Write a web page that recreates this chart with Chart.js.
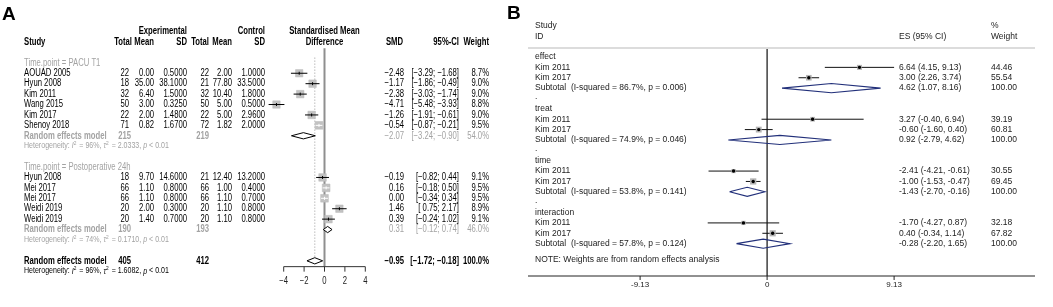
<!DOCTYPE html>
<html lang="en">
<head>
<meta charset="UTF-8">
<title>Forest plots</title>
<script src="https://cdn.jsdelivr.net/npm/chart.js"></script>
<style>
    * { margin: 0; padding: 0; box-sizing: border-box; }
    body { width: 1053px; height: 307px; background: #fff; position: relative; overflow: hidden; }
    #wrapA { position: absolute; left: 0; top: 0; width: 505px; height: 307px; }
    #wrapB { position: absolute; left: 505px; top: 0; width: 548px; height: 307px; }
</style>
</head>
<body>
<div id="wrapA"><canvas id="chartA" width="505" height="307"></canvas></div>
<div id="wrapB"><canvas id="chartB" width="548" height="307"></canvas></div>

<script>
// ---------- Panel A data (R meta forest) ----------
const groupNamesA = ['Time.point = PACU T1', 'Time.point = Postoperative 24h'];
const studyA   = ['AOUAD 2005', 'Hyun 2008', 'Kim 2011', 'Wang 2015', 'Kim 2017', 'Shenoy 2018',
                  'Hyun 2008', 'Mei 2017', 'Mei 2017', 'Weidi 2019', 'Weidi 2019'];
const groupA   = [0, 0, 0, 0, 0, 0, 1, 1, 1, 1, 1];
const expTotal = [22, 18, 32, 50, 22, 71, 18, 66, 66, 20, 20];
const expMean  = ['0.00', '35.00', '6.40', '3.00', '2.00', '0.82', '9.70', '1.10', '1.10', '2.00', '1.40'];
const expSD    = ['0.5000', '38.1000', '1.5000', '0.3250', '1.4800', '1.6700', '14.6000', '0.8000', '0.8000', '0.3000', '0.7000'];
const ctlTotal = [22, 21, 32, 50, 22, 72, 21, 66, 66, 20, 20];
const ctlMean  = ['2.00', '77.80', '10.40', '5.00', '5.00', '1.82', '12.40', '1.00', '1.10', '1.10', '1.10'];
const ctlSD    = ['1.0000', '33.5000', '1.8000', '0.5000', '2.9600', '2.0000', '13.2000', '0.4000', '0.7000', '0.8000', '0.8000'];
const smdA     = [-2.48, -1.17, -2.38, -4.71, -1.26, -0.54, -0.19, 0.16, 0.00, 1.46, 0.39];
const loA      = [-3.29, -1.86, -3.03, -5.48, -1.91, -0.87, -0.82, -0.18, -0.34, 0.75, -0.24];
const hiA      = [-1.68, -0.49, -1.74, -3.93, -0.61, -0.21, 0.44, 0.50, 0.34, 2.17, 1.02];
const weightA  = [8.7, 9.0, 9.0, 8.8, 9.0, 9.5, 9.1, 9.5, 9.5, 8.9, 9.1];

// subgroup random effects models
const subExpTotal = [215, 190];
const subCtlTotal = [219, 193];
const subSmdA = [-2.07, 0.31];
const subLoA  = [-3.24, -0.12];
const subHiA  = [-0.90, 0.74];
const subWA   = [54.0, 46.0];
const subI2   = ['96%', '74%'];
const subTau2 = ['2.0333', '0.1710'];
const subP    = ['0.01', '0.01'];

// overall
const allExpTotal = 405, allCtlTotal = 412;
const allSmd = -0.95, allLo = -1.72, allHi = -0.18, allW = 100.0;
const allI2 = '96%', allTau2 = '1.6082', allP = '0.01';
const ticksA = [-4, -2, 0, 2, 4];

// ---------- Panel B data (Stata metan) ----------
const groupNamesB = ['effect', 'treat', 'time', 'interaction'];
const studyB  = ['Kim 2011', 'Kim 2017', 'Kim 2011', 'Kim 2017', 'Kim 2011', 'Kim 2017', 'Kim 2011', 'Kim 2017'];
const groupB  = [0, 0, 1, 1, 2, 2, 3, 3];
const esB     = [6.64, 3.00, 3.27, -0.60, -2.41, -1.00, -1.70, 0.40];
const loB     = [4.15, 2.26, -0.40, -1.60, -4.21, -1.53, -4.27, -0.34];
const hiB     = [9.13, 3.74, 6.94, 0.40, -0.61, -0.47, 0.87, 1.14];
const weightB = [44.46, 55.54, 39.19, 60.81, 30.55, 69.45, 32.18, 67.82];
const subEsB  = [4.62, 0.92, -1.43, -0.28];
const subLoB  = [1.07, -2.79, -2.70, -2.20];
const subHiB  = [8.16, 4.62, -0.16, 1.65];
const subI2B  = ['86.7%', '74.9%', '53.8%', '57.8%'];
const subPB   = ['0.006', '0.046', '0.141', '0.124'];
const ticksB  = [-9.13, 0, 9.13];

// ---------- helpers ----------
const FONT = '"Liberation Sans", Arial, Helvetica, sans-serif';
const MINUS = '\u2212';
const GREY = '#a3a3a3';

function drawText(ctx, s, x, y, opt) {
    opt = opt || {};
    const size = opt.size || 10;
    ctx.save();
    ctx.font = (opt.italic ? 'italic ' : '') + (opt.bold ? 'bold ' : '') + size + 'px ' + FONT;
    ctx.fillStyle = opt.color || '#000';
    ctx.textBaseline = 'middle';
    ctx.textAlign = 'left';
    const sx = opt.sx || 1;
    const w = ctx.measureText(s).width * sx;
    let x0 = x;
    if (opt.align === 'right') x0 = x - w;
    else if (opt.align === 'center') x0 = x - w / 2;
    ctx.translate(x0, y + (opt.dy || 0));
    ctx.scale(sx, 1);
    ctx.fillText(s, 0, 0);
    ctx.restore();
    return w;
}

function line(ctx, x1, y1, x2, y2, color, width, dash) {
    ctx.save();
    ctx.strokeStyle = color;
    ctx.lineWidth = width || 1;
    if (dash) ctx.setLineDash(dash);
    ctx.beginPath();
    ctx.moveTo(x1, y1);
    ctx.lineTo(x2, y2);
    ctx.stroke();
    ctx.restore();
}

const f2 = v => (v < 0 ? MINUS : '') + Math.abs(v).toFixed(2);
const ciA = (l, h) => '[' + (l < 0 ? '' : ' ') + f2(l) + '; ' + f2(h) + ']';
const esStrB = (e, l, h) => e.toFixed(2) + ' (' + l.toFixed(2) + ', ' + h.toFixed(2) + ')';

// diamond outline as a line dataset: left, top, right, bottom, left
function diamond(est, lo, hi, row, half) {
    return [
        { x: lo, y: row }, { x: est, y: row - half },
        { x: hi, y: row }, { x: est, y: row + half }, { x: lo, y: row }
    ];
}

// ---------- Panel A layout (rows) ----------
const rowsA = { label: [], study: [], sub: [], het: [] };
(function () {
    let r = 2;
    groupNamesA.forEach((g, gi) => {
        rowsA.label.push(r++);
        groupA.forEach(gg => { if (gg === gi) rowsA.study.push(r++); });
        rowsA.sub.push(r++);
        rowsA.het.push(r++);
        r++;
    });
    rowsA.overall = r;
    rowsA.overallHet = r + 1;
})();

const boxSideA = w => 2.5 * Math.sqrt(w);

// columns of panel A (canvas x)
const colA = { study: 24, expTotal: 129, expMean: 154, expSD: 187, ctlTotal: 209,
               ctlMean: 232, ctlSD: 265, smd: 404, ci: 459, weight: 489 };
const SX = 0.77;

function drawHet(ctx, x, y, i2, tau2, p, color) {
    const o = { size: 8.2, sx: 0.86, color: color };
    const it = { size: 8.2, sx: 0.86, color: color, italic: true };
    const sup = { size: 5.6, sx: 0.86, color: color, dy: -3 };
    x += drawText(ctx, 'Heterogeneity: ', x, y, o);
    x += drawText(ctx, 'I', x, y, it);
    x += drawText(ctx, '2', x, y, sup) + 1;
    x += drawText(ctx, ' = ' + i2 + ', ', x, y, o);
    x += drawText(ctx, '\u03c4', x, y, it);
    x += drawText(ctx, '2', x, y, sup) + 1;
    x += drawText(ctx, ' = ' + tau2 + ', ', x, y, o);
    x += drawText(ctx, 'p', x, y, it);
    drawText(ctx, ' < ' + p, x, y, o);
}

const forestA = {
    id: 'forestA',
    beforeDatasetsDraw(chart) {
        const ctx = chart.ctx, xs = chart.scales.x, ys = chart.scales.y;
        const axisY = ys.getPixelForValue(rowsA.overall + 0.56);
        line(ctx, xs.getPixelForValue(0), ys.getPixelForValue(0.6), xs.getPixelForValue(0), axisY, '#8f8f8f', 2);
        line(ctx, xs.getPixelForValue(allSmd), ys.getPixelForValue(1.5), xs.getPixelForValue(allSmd),
             ys.getPixelForValue(rowsA.overall), '#9a9a9a', 1, [1, 2]);
    },
    afterDatasetsDraw(chart) {
        const ctx = chart.ctx, xs = chart.scales.x, ys = chart.scales.y;
        const Y = r => ys.getPixelForValue(r);
        const X = v => xs.getPixelForValue(v);

        // confidence intervals on top of the boxes
        smdA.forEach((v, i) => {
            const y = Y(rowsA.study[i]);
            const side = boxSideA(weightA[i]);
            const inside = X(hiA[i]) - X(loA[i]) <= side;
            const c = inside ? '#fff' : '#000';
            line(ctx, X(loA[i]), y, X(hiA[i]), y, c, 1);
            line(ctx, X(v), y - 1.5, X(v), y + 1.5, c, 1);
        });

        // x axis
        const axisY = Y(rowsA.overall + 0.56);
        line(ctx, X(ticksA[0]), axisY, X(ticksA[ticksA.length - 1]), axisY, '#333', 1);
        ticksA.forEach(t => {
            line(ctx, X(t), axisY, X(t), axisY + 5, '#333', 1);
            drawText(ctx, t < 0 ? MINUS + Math.abs(t) : String(t), X(t), Y(rowsA.overall + 1.94),
                     { align: 'center', sx: SX, color: '#222' });
        });

        // headers
        const b = { bold: true, sx: SX };
        drawText(ctx, 'A', 2, 15, { bold: true, size: 19 });
        drawText(ctx, 'Experimental', colA.expSD, Y(-1), Object.assign({ align: 'right' }, b));
        drawText(ctx, 'Control', colA.ctlSD, Y(-1), Object.assign({ align: 'right' }, b));
        drawText(ctx, 'Standardised Mean', X(0), Y(-1), Object.assign({ align: 'center' }, b));
        drawText(ctx, 'Study', colA.study, Y(0), b);
        drawText(ctx, 'Total', 132, Y(0), Object.assign({ align: 'right' }, b));
        drawText(ctx, 'Mean', colA.expMean, Y(0), Object.assign({ align: 'right' }, b));
        drawText(ctx, 'SD', colA.expSD, Y(0), Object.assign({ align: 'right' }, b));
        drawText(ctx, 'Total', colA.ctlTotal, Y(0), Object.assign({ align: 'right' }, b));
        drawText(ctx, 'Mean', colA.ctlMean, Y(0), Object.assign({ align: 'right' }, b));
        drawText(ctx, 'SD', colA.ctlSD, Y(0), Object.assign({ align: 'right' }, b));
        drawText(ctx, 'Difference', X(0), Y(0), Object.assign({ align: 'center' }, b));
        drawText(ctx, 'SMD', colA.smd - 1, Y(0), Object.assign({ align: 'right' }, b));
        drawText(ctx, '95%-CI', colA.ci, Y(0), Object.assign({ align: 'right' }, b));
        drawText(ctx, 'Weight', colA.weight, Y(0), Object.assign({ align: 'right' }, b));

        // study rows
        const n = { sx: SX, align: 'right' };
        studyA.forEach((s, i) => {
            const y = Y(rowsA.study[i]);
            drawText(ctx, s, colA.study, y, { sx: SX });
            drawText(ctx, String(expTotal[i]), colA.expTotal, y, n);
            drawText(ctx, expMean[i], colA.expMean, y, n);
            drawText(ctx, expSD[i], colA.expSD, y, n);
            drawText(ctx, String(ctlTotal[i]), colA.ctlTotal, y, n);
            drawText(ctx, ctlMean[i], colA.ctlMean, y, n);
            drawText(ctx, ctlSD[i], colA.ctlSD, y, n);
            drawText(ctx, f2(smdA[i]), colA.smd, y, n);
            drawText(ctx, ciA(loA[i], hiA[i]), colA.ci, y, n);
            drawText(ctx, weightA[i].toFixed(1) + '%', colA.weight, y, n);
        });

        // subgroups
        groupNamesA.forEach((g, gi) => {
            drawText(ctx, g, colA.study, Y(rowsA.label[gi]), { sx: SX, color: GREY });
            const y = Y(rowsA.sub[gi]);
            const gb = { sx: SX, color: GREY, bold: true };
            const gr = { sx: SX, color: GREY, align: 'right' };
            drawText(ctx, 'Random effects model', colA.study, y, gb);
            drawText(ctx, String(subExpTotal[gi]), colA.expTotal + 2, y, Object.assign({}, gr, { bold: true }));
            drawText(ctx, String(subCtlTotal[gi]), colA.ctlTotal, y, Object.assign({}, gr, { bold: true }));
            drawText(ctx, f2(subSmdA[gi]), colA.smd, y, gr);
            drawText(ctx, ciA(subLoA[gi], subHiA[gi]), colA.ci, y, gr);
            drawText(ctx, subWA[gi].toFixed(1) + '%', colA.weight, y, gr);
            drawHet(ctx, colA.study, Y(rowsA.het[gi]), subI2[gi], subTau2[gi], subP[gi], GREY);
        });

        // overall
        const yo = Y(rowsA.overall);
        const ob = { sx: SX, bold: true, align: 'right' };
        drawText(ctx, 'Random effects model', colA.study, yo, { sx: SX, bold: true });
        drawText(ctx, String(allExpTotal), colA.expTotal + 2, yo, ob);
        drawText(ctx, String(allCtlTotal), colA.ctlTotal, yo, ob);
        drawText(ctx, f2(allSmd), colA.smd, yo, ob);
        drawText(ctx, ciA(allLo, allHi), colA.ci, yo, ob);
        drawText(ctx, allW.toFixed(1) + '%', colA.weight, yo, ob);
        drawHet(ctx, colA.study, Y(rowsA.overallHet), allI2, allTau2, allP, '#000');
    }
};

const diamondsA = subSmdA.map((v, i) => ({
    type: 'scatter', showLine: true, fill: 'shape', backgroundColor: '#fff',
    borderColor: '#000', borderWidth: 1, pointRadius: 0, clip: false,
    data: diamond(v, subLoA[i], subHiA[i], rowsA.sub[i], 0.3)
}));
diamondsA.push({
    type: 'scatter', showLine: true, fill: 'shape', backgroundColor: '#fff',
    borderColor: '#000', borderWidth: 1, pointRadius: 0, clip: false,
    data: diamond(allSmd, allLo, allHi, rowsA.overall, 0.3)
});

// A: 10.2 px per SMD unit, zero at x=324.5; 10.42 px per row, row 0 at y=42
new Chart(document.getElementById('chartA'), {
    type: 'scatter',
    data: {
        datasets: [{
            data: smdA.map((v, i) => ({ x: v, y: rowsA.study[i] })),
            pointStyle: 'rect',
            pointRadius: weightA.map(w => boxSideA(w) / 1.4142),
            backgroundColor: '#c2c2c2',
            borderColor: '#b8b8b8',
            borderWidth: 0.5,
            clip: false
        }].concat(diamondsA)
    },
    options: {
        responsive: false, animation: false, events: [],
        layout: { padding: { left: 263.3, right: 119.3, top: 21.16, bottom: 14.92 } },
        plugins: { legend: { display: false }, tooltip: { enabled: false } },
        scales: {
            x: { type: 'linear', display: false, min: -6, max: 6 },
            y: { type: 'linear', display: false, min: -2, max: 24, reverse: true }
        }
    },
    plugins: [forestA]
});

// ---------- Panel B layout ----------
const rowsB = { label: [], study: [], sub: [], dot: [] };
(function () {
    let r = 0;
    groupNamesB.forEach((g, gi) => {
        rowsB.label.push(r++);
        groupB.forEach(gg => { if (gg === gi) rowsB.study.push(r++); });
        rowsB.sub.push(r++);
        if (gi < groupNamesB.length - 1) rowsB.dot.push(r++);
    });
    rowsB.note = r + 0.5;
    rowsB.axis = r + 2.12;
})();

const boxSideB = w => 0.75 * Math.sqrt(w);
const colB = { label: 30, es: 394, weight: 486, left: 23, right: 530 };
const TB = { size: 8.5, color: '#222' };

const forestB = {
    id: 'forestB',
    beforeDatasetsDraw(chart) {
        const ctx = chart.ctx, xs = chart.scales.x, ys = chart.scales.y;
        const Y = r => ys.getPixelForValue(r);
        const X = v => xs.getPixelForValue(v);
        // header separator and null line
        line(ctx, colB.left, Y(-0.86), colB.right, Y(-0.86), '#dcdcdc', 2);
        line(ctx, X(0), Y(-0.76), X(0), Y(rowsB.axis), '#222', 1.3);
        // confidence intervals
        esB.forEach((v, i) => {
            line(ctx, X(loB[i]), Y(rowsB.study[i]), X(hiB[i]), Y(rowsB.study[i]), '#111', 1);
        });
    },
    afterDatasetsDraw(chart) {
        const ctx = chart.ctx, xs = chart.scales.x, ys = chart.scales.y;
        const Y = r => ys.getPixelForValue(r);
        const X = v => xs.getPixelForValue(v);

        drawText(ctx, 'B', 2, 14, { bold: true, size: 19 });

        // axis
        const ay = Y(rowsB.axis);
        line(ctx, colB.left, ay, colB.right, ay, '#222', 1);
        ticksB.forEach(t => {
            line(ctx, X(t), ay, X(t), ay + 4, '#222', 1);
            drawText(ctx, t === 0 ? '0' : t.toFixed(2), X(t), Y(rowsB.axis + 0.87),
                     { size: 8, color: '#222', align: 'center' });
        });

        // headers
        drawText(ctx, 'Study', colB.label, Y(-3), TB);
        drawText(ctx, 'ID', colB.label, Y(-2), TB);
        drawText(ctx, 'ES (95% CI)', colB.es, Y(-1.95), TB);
        drawText(ctx, '%', colB.weight, Y(-3), TB);
        drawText(ctx, 'Weight', colB.weight, Y(-2), TB);

        groupNamesB.forEach((g, gi) => {
            drawText(ctx, g, colB.label, Y(rowsB.label[gi]), TB);
            const y = Y(rowsB.sub[gi]);
            drawText(ctx, 'Subtotal  (I-squared = ' + subI2B[gi] + ', p = ' + subPB[gi] + ')', colB.label, y, TB);
            drawText(ctx, esStrB(subEsB[gi], subLoB[gi], subHiB[gi]), colB.es, y, TB);
            drawText(ctx, '100.00', colB.weight, y, TB);
        });
        rowsB.dot.forEach(r => drawText(ctx, '.', colB.label, Y(r) - 2, TB));
        studyB.forEach((s, i) => {
            const y = Y(rowsB.study[i]);
            drawText(ctx, s, colB.label, y, TB);
            drawText(ctx, esStrB(esB[i], loB[i], hiB[i]), colB.es, y, TB);
            drawText(ctx, weightB[i].toFixed(2), colB.weight, y, TB);
        });
        drawText(ctx, 'NOTE: Weights are from random effects analysis', colB.label, Y(rowsB.note), TB);
    }
};

const diamondsB = subEsB.map((v, i) => ({
    type: 'scatter', showLine: true, borderColor: '#22307a', borderWidth: 1.1,
    pointRadius: 0, clip: false, fill: false,
    data: diamond(v, subLoB[i], subHiB[i], rowsB.sub[i], 0.44)
}));

// B: 13.9 px per unit, zero at container x=262; 10.37 px per row, row 0 at y=57
new Chart(document.getElementById('chartB'), {
    type: 'scatter',
    data: {
        datasets: [{
            data: esB.map((v, i) => ({ x: v, y: rowsB.study[i] })),
            pointStyle: 'circle', pointRadius: 1.7,
            backgroundColor: '#000', borderWidth: 0, clip: false
        }, {
            data: esB.map((v, i) => ({ x: v, y: rowsB.study[i] })),
            pointStyle: 'rect',
            pointRadius: weightB.map(w => boxSideB(w) / 1.4142),
            backgroundColor: '#b4b4b4', borderWidth: 0, clip: false
        }].concat(diamondsB)
    },
    options: {
        responsive: false, animation: false, events: [],
        layout: { padding: { left: 135.1, right: 158.9, top: 15.52, bottom: 11.49 } },
        plugins: { legend: { display: false }, tooltip: { enabled: false } },
        scales: {
            x: { type: 'linear', display: false, min: -9.13, max: 9.13 },
            y: { type: 'linear', display: false, min: -4, max: 23, reverse: true }
        }
    },
    plugins: [forestB]
});
</script>
</body>
</html>
